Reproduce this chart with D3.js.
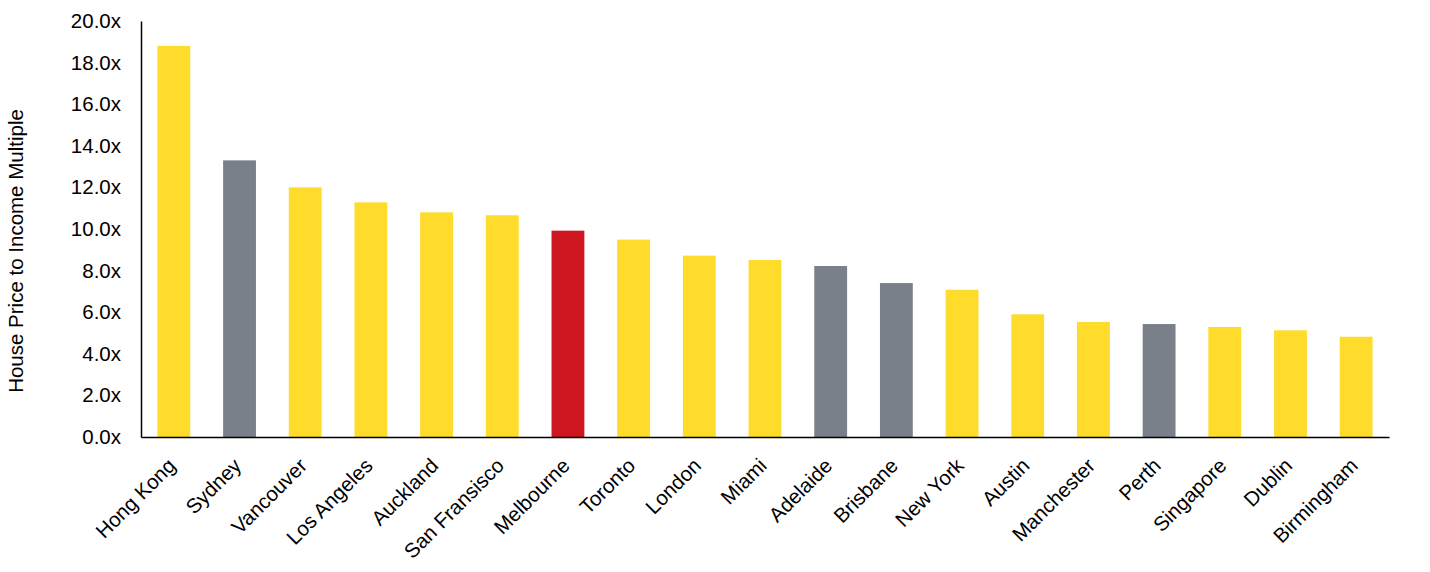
<!DOCTYPE html>
<html><head><meta charset="utf-8">
<script src="https://cdn.jsdelivr.net/npm/d3@7"></script>
<style>body{margin:0;background:#fff}svg text{font-family:Arial,"Liberation Sans",sans-serif;fill:#000}</style>
</head><body><svg id="c" width="1430" height="572"></svg>
<script>
const cities = ["Hong Kong","Sydney","Vancouver","Los Angeles","Auckland","San Fransisco","Melbourne","Toronto","London","Miami","Adelaide","Brisbane","New York","Austin","Manchester","Perth","Singapore","Dublin","Birmingham"];
const multiples = [18.8,13.3,12.0,11.28,10.8,10.66,9.92,9.49,8.72,8.51,8.22,7.40,7.08,5.9,5.53,5.43,5.29,5.13,4.82];
const groups = ["other","aus","other","other","other","other","mel","other","other","other","aus","aus","other","other","other","aus","other","other","other"];
const yTicks = [0,2,4,6,8,10,12,14,16,18,20];
const yTitle = "House Price to Income Multiple";

const svg = d3.select("#c");
const m = {l:141, r:1389, t:21, b:437};
const x = d3.scaleBand().domain(cities).range([m.l, m.r]).paddingInner(0.5).paddingOuter(0.25);
const y = d3.scaleLinear().domain([0,20]).range([m.b, m.t]);
const color = d3.scaleOrdinal().domain(["other","aus","mel"]).range(["#FFDB2B","#7A8089","#CE1620"]);

svg.append("g").selectAll("rect").data(cities).join("rect")
  .attr("x", d=>x(d)).attr("width", x.bandwidth())
  .attr("y", (d,i)=>y(multiples[i])).attr("height", (d,i)=>y(0)-y(multiples[i]))
  .attr("fill", (d,i)=>color(groups[i]));

const ya = svg.append("g").attr("transform",`translate(${m.l},0)`)
  .call(d3.axisLeft(y).tickValues(yTicks).tickSize(0).tickPadding(20).tickFormat(d=>d3.format(".1f")(d)+"x"));
ya.select(".domain").attr("stroke","#000").attr("stroke-width",1.5);
ya.selectAll("text").attr("font-size",20.5).attr("font-family","Arial, 'Liberation Sans', sans-serif");

const xa = svg.append("g").attr("transform",`translate(0,${m.b})`)
  .call(d3.axisBottom(x).tickSize(0).tickPadding(0));
xa.select(".domain").attr("stroke","#000").attr("stroke-width",1.5);
xa.selectAll("text").attr("font-size",20.5).attr("font-family","Arial, 'Liberation Sans', sans-serif")
  .attr("text-anchor","end").attr("dy",0).attr("y",0)
  .attr("transform","translate(3,30) rotate(-45)");

svg.append("text").attr("transform",`translate(23,${(m.t+m.b)/2+22}) rotate(-90)`)
  .attr("text-anchor","middle").attr("font-size",20.5).text(yTitle);
</script></body></html>
